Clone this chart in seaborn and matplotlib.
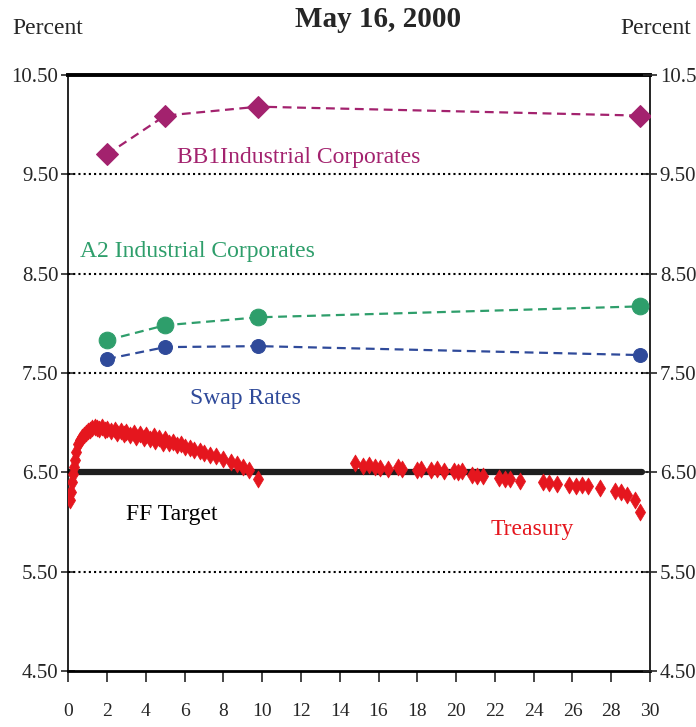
import matplotlib
matplotlib.use("Agg")
import matplotlib.pyplot as plt
import seaborn as sns

# Yield curve data, May 16, 2000
maturities = [2, 5, 9.8, 29.5]
bb1_yields = [9.70, 10.09, 10.18, 10.09]
a2_yields = [7.83, 7.98, 8.06, 8.17]
swap_yields = [7.64, 7.76, 7.77, 7.68]

ff_x = [0, 29.6]
ff_target = [6.50, 6.50]

treasury_x = [0.1, 0.15, 0.2, 0.25, 0.3, 0.35, 0.4, 0.5, 0.6, 0.7, 0.8, 0.9, 1.0, 1.1, 1.25,
              1.4, 1.5, 1.6, 1.75, 1.9, 2.0, 2.2, 2.4, 2.5, 2.7, 2.9, 3.0, 3.2, 3.4, 3.5,
              3.7, 3.9, 4.0, 4.2, 4.4, 4.5, 4.7, 4.9, 5.0, 5.2, 5.4, 5.6, 5.8, 6.0, 6.3,
              6.5, 6.8, 7.0, 7.3, 7.6, 8.0, 8.4, 8.7, 9.0, 9.3, 9.8,
              14.8, 15.2, 15.5, 15.8, 16.1, 16.5, 17.0, 17.2, 18.0, 18.2, 18.7, 19.0, 19.4,
              19.9, 20.1, 20.3, 20.8, 21.1, 21.4, 22.2, 22.5, 22.8, 23.3, 24.5, 24.8, 25.2,
              25.8, 26.2, 26.5, 26.8, 27.4, 28.2, 28.5, 28.8, 29.2, 29.5]
treasury_y = [6.22, 6.30, 6.40, 6.48, 6.55, 6.62, 6.70, 6.78, 6.83, 6.86, 6.88, 6.90, 6.92, 6.93, 6.95,
              6.96, 6.95, 6.94, 6.96, 6.93, 6.94, 6.92, 6.93, 6.90, 6.92, 6.89, 6.91, 6.88, 6.90, 6.86,
              6.89, 6.85, 6.88, 6.84, 6.87, 6.82, 6.85, 6.80, 6.84, 6.79, 6.81, 6.77, 6.78, 6.75, 6.74,
              6.72, 6.71, 6.69, 6.67, 6.66, 6.63, 6.60, 6.58, 6.55, 6.52, 6.43,
              6.59, 6.56, 6.57, 6.55, 6.54, 6.53, 6.55, 6.53, 6.52, 6.53, 6.52, 6.53, 6.51,
              6.51, 6.50, 6.51, 6.47, 6.46, 6.46, 6.44, 6.43, 6.43, 6.41, 6.40, 6.39, 6.38,
              6.37, 6.36, 6.37, 6.36, 6.34, 6.31, 6.30, 6.27, 6.22, 6.10]

y_ticks = [4.50, 5.50, 6.50, 7.50, 8.50, 9.50, 10.50]
x_ticks = list(range(0, 31, 2))

purple = "#A3226E"
green = "#2E9E6B"
blue = "#2F4A9A"
red = "#E5161E"

sns.set_style("white")
plt.rcParams["font.family"] = ["Liberation Serif", "DejaVu Serif"]

fig = plt.figure(figsize=(6.96, 7.27), dpi=100)
ax = fig.add_axes([0.098, 0.077, 0.836, 0.820])

# FF target line
sns.lineplot(x=ff_x, y=ff_target, ax=ax, color="#1e1e1e", linewidth=4.5, zorder=2)

# Treasury curve
sns.scatterplot(x=treasury_x, y=treasury_y, ax=ax, color=red, marker="d", s=75,
                edgecolor=red, linewidth=0.5, zorder=4)

# Corporate and swap curves
sns.lineplot(x=maturities, y=bb1_yields, ax=ax, color=purple, linestyle=(0, (4, 2.5)),
             linewidth=1.6, marker="D", markersize=11, markeredgecolor=purple, zorder=5)
sns.lineplot(x=maturities, y=a2_yields, ax=ax, color=green, linestyle=(0, (4, 2.5)),
             linewidth=1.6, marker="o", markersize=12, markeredgecolor=green, zorder=5)
sns.lineplot(x=maturities, y=swap_yields, ax=ax, color=blue, linestyle=(0, (4, 2.5)),
             linewidth=1.6, marker="o", markersize=10, markeredgecolor=blue, zorder=5)

# Dotted grid lines
for yv in y_ticks[1:-1]:
    ax.axhline(yv, color="black", linestyle=(0, (1, 1.5)), linewidth=1.5, zorder=1)

ax.set_xlim(0, 30)
ax.set_ylim(4.50, 10.50)
ax.set_xticks(x_ticks)
ax.set_yticks(y_ticks)
ax.set_yticklabels([f"{v:.2f}" for v in y_ticks])

for side in ["left", "right", "bottom"]:
    ax.spines[side].set_color("black")
    ax.spines[side].set_linewidth(1.2)
ax.spines["bottom"].set_linewidth(2.0)
ax.spines["top"].set_color("black")
ax.spines["top"].set_linewidth(2.8)

ax.tick_params(axis="y", which="both", left=True, direction="inout", length=10,
               width=1.2, labelsize=15, pad=2)
ax.tick_params(axis="x", bottom=True, direction="out", length=8, width=1.2,
               labelsize=14, pad=15)

ax2 = ax.twinx()
ax2.set_ylim(4.50, 10.50)
ax2.set_yticks(y_ticks)
ax2.set_yticklabels([f"{v:.2f}" for v in y_ticks])
ax2.tick_params(axis="y", right=True, direction="inout", length=10, width=1.2,
                labelsize=15, pad=2)
for s in ax2.spines.values():
    s.set_visible(False)

# Series labels
ax.text(11.9, 9.67, "BB1Industrial Corporates", color=purple, fontsize=17, ha="center", va="center")
ax.text(0.6, 8.72, "A2 Industrial Corporates", color=green, fontsize=17, ha="left", va="center")
ax.text(6.3, 7.24, "Swap Rates", color=blue, fontsize=17, ha="left", va="center")
ax.text(3.0, 6.08, "FF Target", color="black", fontsize=17, ha="left", va="center")
ax.text(21.8, 5.92, "Treasury", color=red, fontsize=17, ha="left", va="center")

fig.text(0.543, 0.973, "May 16, 2000", fontsize=21, fontweight="bold", ha="center", va="center")
fig.text(0.068, 0.961, "Percent", fontsize=17, ha="center", va="center")
fig.text(0.892, 0.961, "Percent", fontsize=17, ha="left", va="center")

plt.savefig("out.png", dpi=100)
